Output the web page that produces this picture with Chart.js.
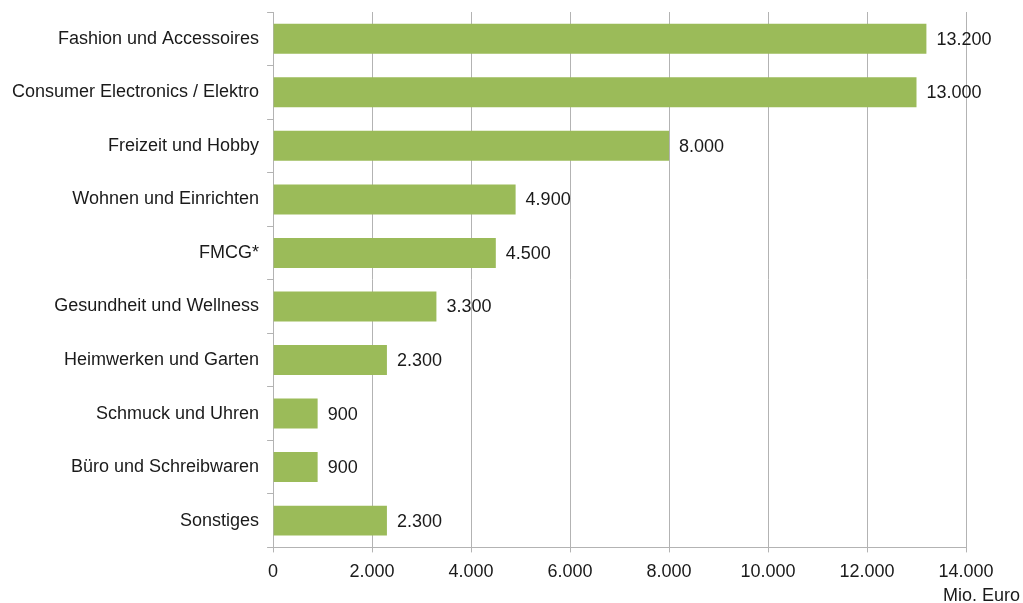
<!DOCTYPE html>
<html>
<head>
<meta charset="utf-8">
<script src="https://cdn.jsdelivr.net/npm/chart.js@4"></script>
<style>
    html, body { margin: 0; padding: 0; background: #ffffff; }
    #wrap { width: 1023px; height: 603px; }
</style>
</head>
<body>
<div id="wrap"><canvas id="umsatz"></canvas></div>
<script>
// categories and values (Mio. Euro)
const categories = [
    "Fashion und Accessoires",
    "Consumer Electronics / Elektro",
    "Freizeit und Hobby",
    "Wohnen und Einrichten",
    "FMCG*",
    "Gesundheit und Wellness",
    "Heimwerken und Garten",
    "Schmuck und Uhren",
    "Büro und Schreibwaren",
    "Sonstiges"
];
const values = [13200, 13000, 8000, 4900, 4500, 3300, 2300, 900, 900, 2300];
const unitLabel = "Mio. Euro";

// german thousands separator
const formatNumber = (n) => String(Math.round(n)).replace(/\B(?=(\d{3})+(?!\d))/g, ".");

const fontFamily = "'Liberation Sans', Arial, sans-serif";

// draw the value labels next to the bars and the unit label
const valueLabels = {
    id: "valueLabels",
    afterDatasetsDraw(chart) {
        const ctx = chart.ctx;
        const meta = chart.getDatasetMeta(0);
        ctx.save();
        ctx.font = "18px " + fontFamily;
        ctx.fillStyle = "#1a1a1a";
        ctx.textBaseline = "middle";
        ctx.textAlign = "left";
        meta.data.forEach((bar, i) => {
            ctx.fillText(formatNumber(values[i]), bar.x + 10, bar.y + 1);
        });
        ctx.textAlign = "right";
        ctx.textBaseline = "alphabetic";
        ctx.fillText(unitLabel, chart.chartArea.right + 54, chart.chartArea.bottom + 54);
        ctx.restore();
    }
};

const context = document.getElementById("umsatz").getContext("2d");
const umsatzChart = new Chart(context, {
    type: "bar",
    data: {
        labels: categories,
        datasets: [
            {
                data: values,
                backgroundColor: "#9bbb59",
                borderWidth: 0,
                barPercentage: 0.56,
                categoryPercentage: 1.0
            }
        ]
    },
    options: {
        indexAxis: "y",
        responsive: true,
        maintainAspectRatio: false,
        animation: false,
        layout: {
            padding: { top: 12, right: 57, bottom: 11, left: 4 }
        },
        plugins: {
            legend: { display: false },
            tooltip: { enabled: false }
        },
        scales: {
            x: {
                min: 0,
                max: 14000,
                ticks: {
                    stepSize: 2000,
                    color: "#1a1a1a",
                    font: { family: fontFamily, size: 18 },
                    padding: 9,
                    callback: (v) => formatNumber(v)
                },
                grid: {
                    color: "#b3b3b3",
                    lineWidth: 1,
                    tickLength: 5
                },
                border: { display: true, color: "#b3b3b3", width: 1 }
            },
            y: {
                ticks: {
                    color: "#1a1a1a",
                    font: { family: fontFamily, size: 18 },
                    padding: 8
                },
                grid: {
                    offset: true,
                    drawOnChartArea: false,
                    color: "#b3b3b3",
                    tickLength: 6
                },
                border: { display: true, color: "#b3b3b3", width: 1 },
                // labels sit inside the category bands, no extra room needed
                afterFit: (scale) => {
                    scale.paddingTop = 0;
                    scale.paddingBottom = 0;
                }
            }
        }
    },
    plugins: [valueLabels]
});
</script>
</body>
</html>
